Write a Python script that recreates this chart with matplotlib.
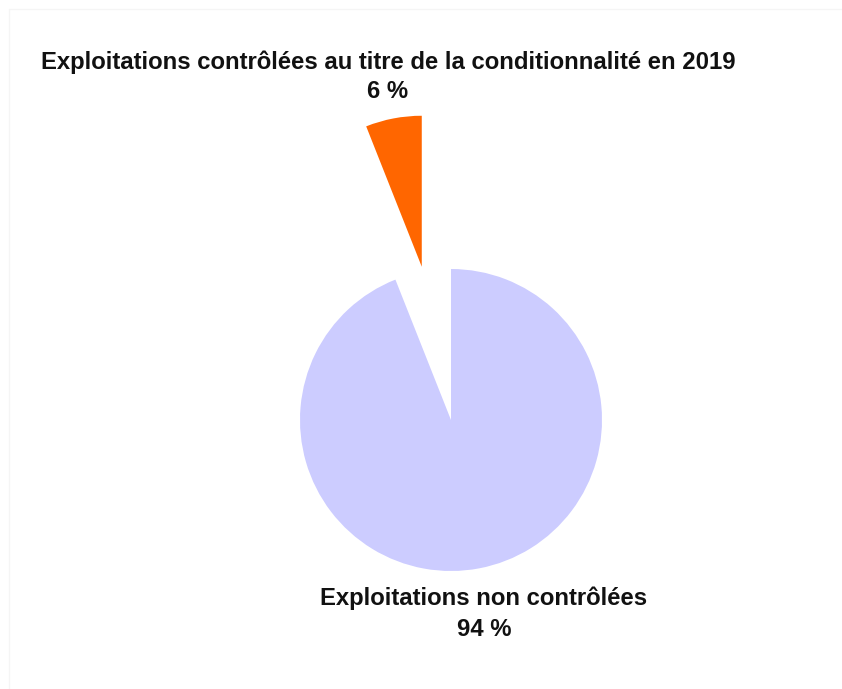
import matplotlib.pyplot as plt
from matplotlib.patches import Rectangle

# Exploitations contrôlées / non contrôlées (conditionnalité 2019)
categories = ["Exploitations non contrôlées",
              "Exploitations contrôlées au titre de la conditionnalité en 2019"]
shares = [94, 6]
colors = ["#CCCCFF", "#FF6600"]

W, H = 842, 689
fig = plt.figure(figsize=(W / 100, H / 100), dpi=100)
ax = fig.add_axes([0, 0, 1, 1])

# very faint frame, runs off the right and bottom edges
ax.add_patch(Rectangle((9, -20), W + 20, H - 9 + 20, fill=False,
                       edgecolor="#f5f5f5", lw=1))

cx, cy, r = 451, H - 420, 151
ax.pie(shares, colors=colors, startangle=90, counterclock=False,
       center=(cx, cy), radius=r, explode=[0, 156], frame=True,
       wedgeprops=dict(linewidth=0))
ax.set_xlim(0, W)
ax.set_ylim(0, H)
ax.set_aspect("equal")
ax.axis("off")

font = dict(family=["Liberation Sans", "DejaVu Sans"], weight="bold", color="#111111")
ax.text(388, H - 62, categories[1], ha="center", va="center", fontsize=17.2, **font)
ax.text(388, H - 92, f"{shares[1]} %", ha="center", va="center", fontsize=17.2, **font)
ax.text(484, H - 598, categories[0], ha="center", va="center", fontsize=17.2, **font)
ax.text(484, H - 630, f"{shares[0]} %", ha="center", va="center", fontsize=17.2, **font)

fig.savefig("out.png", dpi=100, facecolor="white")
